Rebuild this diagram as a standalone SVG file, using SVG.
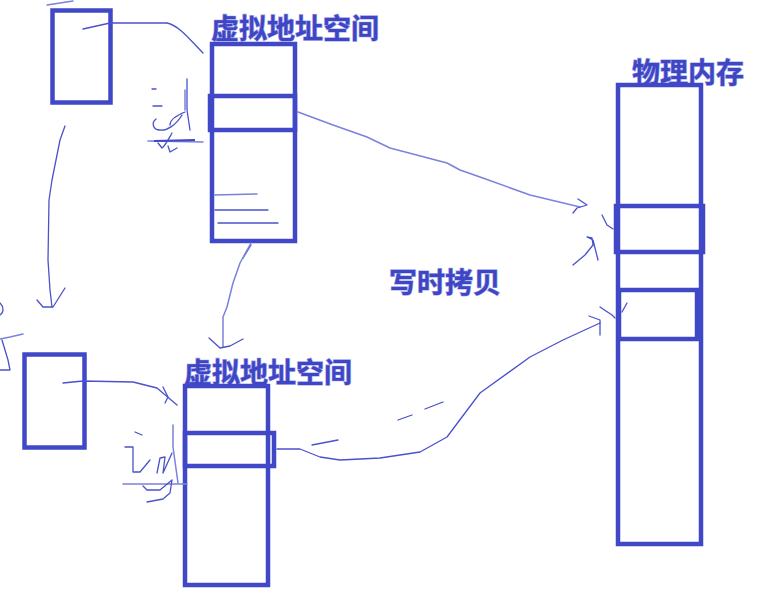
<svg xmlns="http://www.w3.org/2000/svg" width="776" height="602" viewBox="0 0 776 602">
<style>
.box{fill:none;stroke:#4048c8;stroke-width:4.5}
.ink{fill:none;stroke:#4a52cc;stroke-width:1.3;stroke-linecap:round;stroke-linejoin:round}
.lt{fill:none;stroke:#7a82dc;stroke-width:1.5;stroke-linecap:round;stroke-linejoin:round}
.t{font-family:"Noto Sans CJK SC","Noto Sans",sans-serif;font-weight:bold;font-size:28px;fill:#3f46c4;stroke:#a4a9ea;stroke-width:1.2;paint-order:stroke}
</style>
<rect width="776" height="602" fill="#ffffff"/>

<g id="proc1">
<rect class="box" x="52.5" y="10.5" width="58" height="92"/>
<path class="lt" d="M47,5 L73,1"/>
</g>

<g id="va1">
<text class="t" x="211" y="39">虚拟地址空间</text>
<rect class="box" x="212" y="44" width="83" height="197"/>
<rect class="box" x="210" y="96" width="85" height="34"/>
<path class="lt" d="M214,195 L257,194"/>
<path class="ink" d="M215,210 L268,210"/>
<path class="ink" d="M218,223 L278,223"/>
</g>

<g id="proc2">
<rect class="box" x="24.5" y="354.5" width="60" height="93"/>
</g>

<g id="va2">
<text class="t" x="184" y="383">虚拟地址空间</text>
<rect class="box" x="185" y="386" width="83" height="199"/>
<rect class="box" x="185" y="433" width="89" height="33"/>
</g>

<g id="phys">
<text class="t" x="632" y="83">物理内存</text>
<rect class="box" x="618" y="85" width="83" height="459"/>
<rect class="box" x="616" y="206" width="87" height="46"/>
<rect class="box" x="619" y="290" width="78" height="49"/>
</g>

<g id="label">
<text class="t" x="389" y="293">写时拷贝</text>
</g>

<g id="notes">
<path class="ink" d="M152,89 L156,89"/>
<path class="ink" d="M153,106 L162,106"/>
<path class="ink" d="M156,119 C151,123 153,130 160,130 C167,131 176,125 182,115"/>
<path class="ink" d="M170,125 C170,120 175,116 185,112"/>
<path class="ink" d="M187,79 L187,110 L190,130"/>
<path class="lt" d="M185,90 L185,110"/>
<path class="lt" d="M148,141 L203,142"/>
<path class="box" style="stroke-width:2" d="M154,141 L195,140"/>
<path class="ink" d="M172,133 C168,140 165,146 162,148 L158,143"/>
<path class="ink" d="M168,146 L170,152 L177,148"/>

<path class="ink" d="M135,432 L142,435"/>
<path class="ink" d="M125,447 L133,447 L133,472 L140,472 L150,460"/>
<path class="ink" d="M157,473 L160,458 L165,457 L163,473 L172,453"/>
<path class="lt" d="M173,425 L173,447 L178,483"/>
<path class="lt" d="M123,484 L187,484"/>
<path class="ink" d="M143,486 L147,490 L160,490 L172,480 L170,493 L163,499 L147,502"/>

<path class="ink" d="M0,303 C4,307 4,312 0,315"/>
<path class="lt" d="M0,339 L10,337 L23,334"/>
<path class="ink" d="M2,340 L5,350 L8,360 L10,370 L0,370"/>
</g>

<g id="connectors">
<path class="ink" d="M83,29 L110,23 L167,23 C180,26 190,40 203,53"/>
<path class="ink" d="M65,126 L60,140 L52,180 L49,200 L48,260 L50,290 L52,307"/>
<path class="ink" d="M37,300 L43,307 L53,307 L65,288"/>
<path class="ink" d="M251,245 L243,258"/>
<path class="lt" d="M251,243 L240,263 L233,283 L227,307 L223,317 L223,347"/>
<path class="ink" d="M209,338 L220,348 L230,346 L243,339"/>
<path class="ink" d="M63,383 L83,381 L133,382 L157,388 L177,405"/>
<path class="ink" d="M163,387 L168,397 L165,403"/>
<path class="lt" d="M298,112 L333,125 L367,137 L390,148 L447,163 L460,170 L480,177 L530,195 L580,207"/>
<path class="ink" d="M578,199 L587,205 L577,208 L573,213"/>
<path class="ink" d="M602,215 L607,225 L613,229"/>
<path class="ink" d="M573,265 L585,255 L593,245 L592,238 L587,237 L593,240 L598,260"/>
<path class="ink" d="M600,307 L612,315 L615,318"/>
<path class="ink" d="M627,303 L622,312"/>
<path class="ink" d="M277,449 L300,449 L320,457 L340,460 L380,458 L420,452 L447,437 L480,393 L530,357 L563,340 L600,323"/>
<path class="ink" d="M589,316 L600,320 L600,335"/>
<path class="ink" d="M312,445 L338,440"/>
<path class="ink" d="M398,420 L412,415"/>
<path class="ink" d="M425,409 L443,402"/>
</g>
</svg>
